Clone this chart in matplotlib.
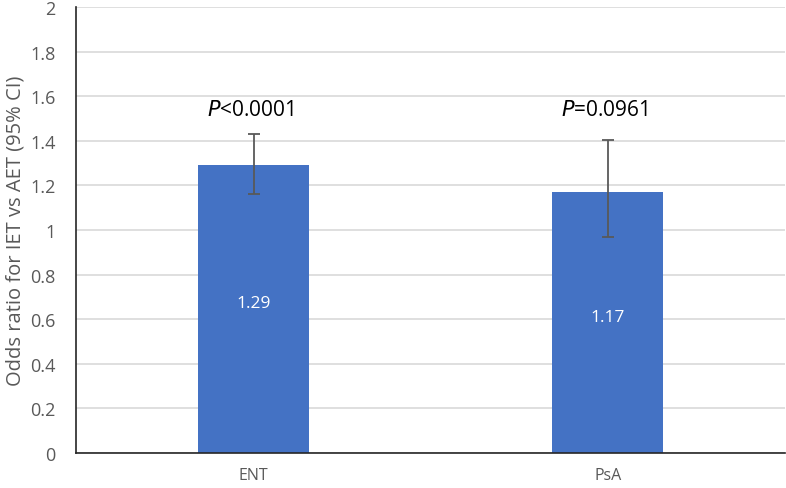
import numpy as np
import matplotlib.pyplot as plt

plt.rcParams['font.family'] = ['Open Sans', 'DejaVu Sans']

categories = ['ENT', 'PsA']
odds = [1.29, 1.17]
ci_low = [1.16, 0.97]
ci_high = [1.43, 1.405]
p_labels = ['<0.0001', '=0.0961']

fig = plt.figure(figsize=(7.86, 4.89), dpi=100)
ax = fig.add_axes([0.0973, 0.0716, 0.9015, 0.912])

x = np.arange(len(categories))
err = [np.array(odds) - np.array(ci_low), np.array(ci_high) - np.array(odds)]
ax.bar(x, odds, width=0.313, color='#4472c4', zorder=2)
ax.errorbar(x, odds, yerr=err, fmt='none', ecolor='#595959', elinewidth=1.3,
            capsize=4.5, capthick=1.3, zorder=3)

for xi, v, p in zip(x, odds, p_labels):
    ax.text(xi, v * 0.52, f'{v:.2f}', ha='center', va='center', color='white', fontsize=12.5)
    ax.text(xi - 0.01, 1.54, f'$\\it{{P}}$' + p, ha='center', va='center',
            color='black', fontsize=15)

ax.set_xlim(-0.5, 1.5)
ax.set_ylim(0, 2)
ax.set_yticks(np.arange(0, 2.01, 0.2))
ax.set_yticklabels(['0', '0.2', '0.4', '0.6', '0.8', '1', '1.2', '1.4', '1.6', '1.8', '2'])
ax.set_xticks(x)
ax.set_xticklabels(categories)
ax.tick_params(length=0, colors='#595959', labelsize=13)
ax.tick_params(axis='x', labelsize=11.5, pad=10)
ax.tick_params(axis='y', pad=15)
ax.yaxis.grid(True, color='#d9d9d9', linewidth=1.2, zorder=0)
ax.set_axisbelow(True)
for s in ['top', 'right']:
    ax.spines[s].set_visible(False)
ax.spines['left'].set_color('#262626')
ax.spines['bottom'].set_color('#262626')
ax.spines['left'].set_linewidth(1.2)
ax.spines['bottom'].set_linewidth(1.2)
ax.set_ylabel('Odds ratio for IET vs AET (95% CI)', color='#595959', fontsize=14.5, labelpad=3)

fig.savefig('out.png', dpi=100)
